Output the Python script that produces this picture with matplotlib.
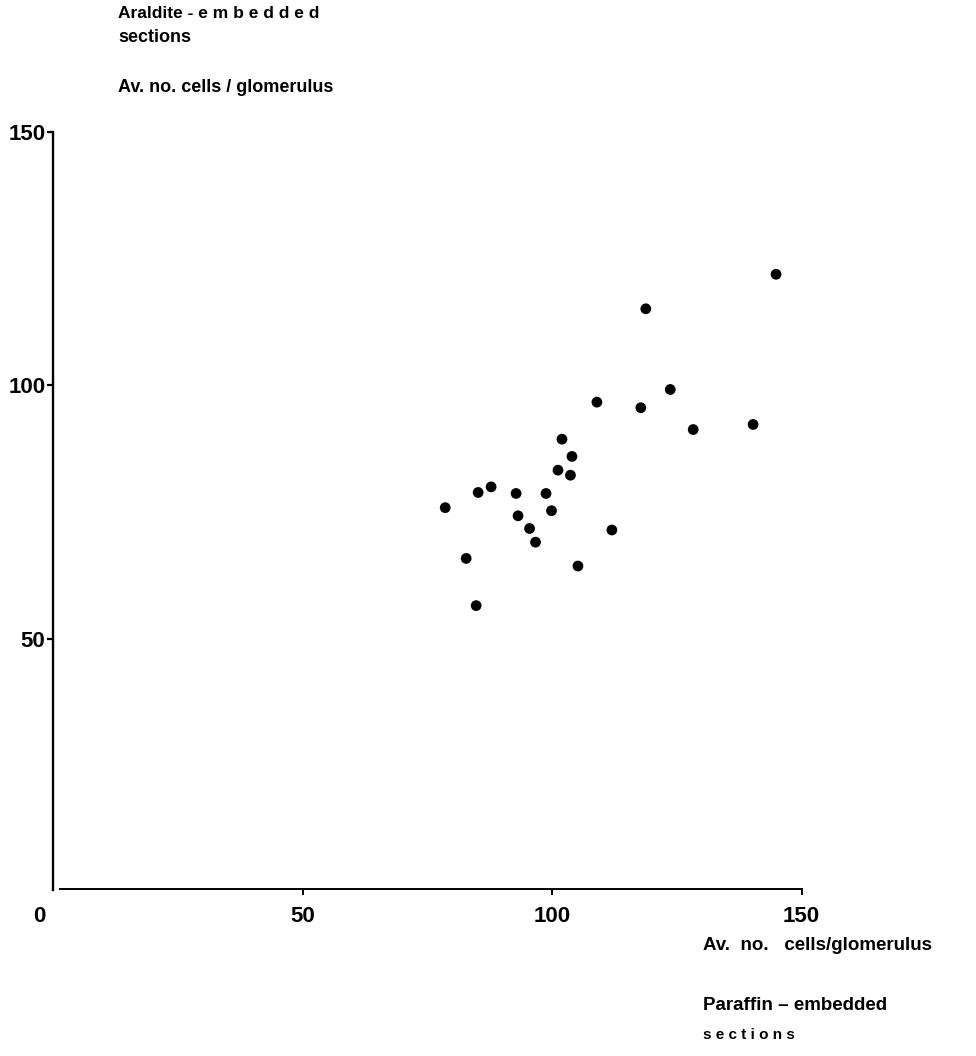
import matplotlib
matplotlib.use("Agg")
import matplotlib.pyplot as plt

# Data: average number of cells per glomerulus
paraffin = [109.0, 117.8, 123.7, 102.0, 104.0, 101.2, 103.7, 87.8, 85.2, 92.8,
            98.8, 78.6, 93.2, 99.9, 95.5, 96.7, 112.0, 82.8, 105.2, 84.8,
            144.9, 118.8, 128.3, 140.3]
araldite = [96.7, 95.6, 99.2, 89.4, 86.0, 83.3, 82.3, 80.0, 78.9, 78.7,
            78.7, 75.9, 74.3, 75.3, 71.8, 69.1, 71.5, 65.9, 64.4, 56.6,
            121.9, 115.1, 91.3, 92.3]
xticks = [50, 100, 150]
yticks = [50, 100, 150]

W, H = 976, 1056
plt.rcParams['font.family'] = ['Liberation Sans', 'DejaVu Sans']
fig = plt.figure(figsize=(W / 100, H / 100), dpi=100)

x0, x150 = 53, 801.5
y0, y150 = 892.8, 131.7
ax = fig.add_axes([x0 / W, 1 - y0 / H, (x150 - x0) / W, (y0 - y150) / H])
ax.set_xlim(0, 150)
ax.set_ylim(0, 150)
ax.patch.set_alpha(0)

ax.scatter(paraffin, araldite, s=60, color='black', edgecolors='none', zorder=3)

for s in ['top', 'right']:
    ax.spines[s].set_visible(False)
ax.spines['left'].set_linewidth(1.7)
ax.spines['bottom'].set_linewidth(1.4)
ax.spines['left'].set_bounds(0.5, 150)
ax.spines['bottom'].set_bounds(1.4, 150)
ax.spines['bottom'].set_position(('data', 0.75))

tfs = 16
ax.set_xticks(xticks)
ax.set_yticks(yticks)
ax.tick_params(axis='y', direction='out', length=4, width=1.6, pad=1.5,
               labelsize=tfs)
ax.tick_params(axis='x', direction='out', length=4, width=1.4, pad=8,
               labelsize=tfs)
for lab in ax.get_xticklabels() + ax.get_yticklabels():
    lab.set_fontweight('bold')
ax.set_xticks([150], minor=True)
ax.tick_params(axis='x', which='minor', direction='in', length=5, width=1.4,
               labelbottom=False)

ax.annotate('0', xy=(0, 0), xytext=(-10, -17), textcoords='offset points',
            ha='center', va='center', fontsize=tfs, fontweight='bold')

# Axis titles
fs = 13
fig.text(118 / W, 1 - 14 / H, 'Araldite - e m b e d d e d', fontsize=12.5,
         fontweight='bold', ha='left', va='center')
fig.text(118 / W, 1 - 37 / H, 'sections', fontsize=fs, fontweight='bold',
         ha='left', va='center')
fig.text(118 / W, 1 - 88 / H, 'Av. no. cells / glomerulus', fontsize=fs,
         fontweight='bold', ha='left', va='center')

fig.text(703 / W, 1 - 946 / H, 'Av.  no.   cells/glomerulus', fontsize=13.5,
         fontweight='bold', ha='left', va='center')
fig.text(703 / W, 1 - 1005 / H, 'Paraffin – embedded', fontsize=13.5,
         fontweight='bold', ha='left', va='center')
fig.text(703 / W, 1 - 1035 / H, 's e c t i o n s', fontsize=11,
         fontweight='bold', ha='left', va='center')

fig.savefig('out.png', dpi=100, facecolor='white')
